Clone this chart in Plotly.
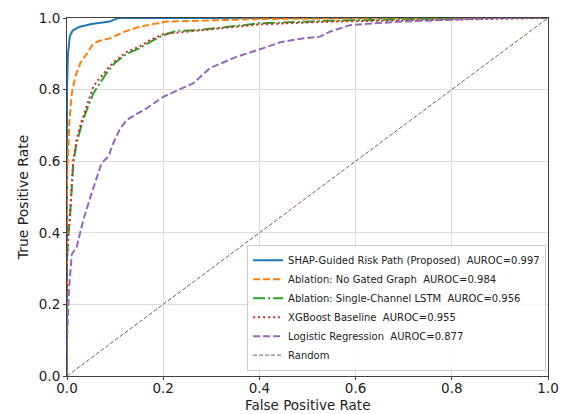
import plotly.graph_objects as go

# --- data ---
shap_fpr = [0.0, 0.0, 0.0, 0.002, 0.006, 0.012, 0.025, 0.051, 0.07, 0.089, 0.106, 0.2, 0.5, 1.0]
shap_tpr = [0.0, 0.6, 0.80, 0.90, 0.95, 0.965, 0.975, 0.983, 0.987, 0.99, 1.0, 1.0, 1.0, 1.0]

nogate_fpr = [0.0, 0.0, 0.0, 0.005, 0.01, 0.017, 0.028, 0.041, 0.055, 0.07, 0.089, 0.12, 0.152, 0.207, 0.3, 0.4, 0.6, 0.8, 1.0]
nogate_tpr = [0.0, 0.3, 0.55, 0.715, 0.79, 0.836, 0.875, 0.90, 0.929, 0.937, 0.943, 0.962, 0.976, 0.99, 0.994, 0.997, 0.999, 1.0, 1.0]

lstm_fpr = [0.0, 0.0, 0.0, 0.003, 0.006, 0.013, 0.02, 0.03, 0.04, 0.055, 0.07, 0.082, 0.1, 0.124, 0.15, 0.175, 0.2, 0.228, 0.27, 0.339, 0.4, 0.547, 0.7, 0.85, 1.0]
lstm_tpr = [0.0, 0.2, 0.33, 0.40, 0.436, 0.595, 0.65, 0.70, 0.74, 0.79, 0.82, 0.846, 0.875, 0.90, 0.915, 0.935, 0.952, 0.964, 0.966, 0.976, 0.985, 0.992, 0.996, 1.0, 1.0]

xgb_fpr = [0.0, 0.0, 0.0, 0.003, 0.006, 0.013, 0.02, 0.03, 0.04, 0.055, 0.07, 0.082, 0.1, 0.124, 0.15, 0.175, 0.2, 0.25, 0.3, 0.4, 0.547, 0.7, 0.85, 1.0]
xgb_tpr = [0.0, 0.18, 0.32, 0.40, 0.45, 0.60, 0.66, 0.71, 0.75, 0.81, 0.835, 0.855, 0.88, 0.905, 0.92, 0.94, 0.955, 0.962, 0.97, 0.982, 0.99, 0.993, 0.996, 1.0]

lr_fpr = [0.0, 0.0, 0.004, 0.01, 0.02, 0.034, 0.051, 0.072, 0.086, 0.096, 0.11, 0.124, 0.145, 0.166, 0.2, 0.263, 0.297, 0.353, 0.4, 0.443, 0.49, 0.526, 0.547, 0.588, 0.692, 0.796, 0.9, 1.0]
lr_tpr = [0.0, 0.10, 0.24, 0.34, 0.36, 0.436, 0.51, 0.595, 0.613, 0.65, 0.69, 0.715, 0.732, 0.748, 0.78, 0.818, 0.86, 0.892, 0.912, 0.932, 0.943, 0.948, 0.962, 0.98, 0.99, 0.994, 1.0, 1.0]

random_fpr = [0.0, 1.0]
random_tpr = [0.0, 1.0]

names = [
    "SHAP-Guided Risk Path (Proposed)  AUROC=0.997",
    "Ablation: No Gated Graph  AUROC=0.984",
    "Ablation: Single-Channel LSTM  AUROC=0.956",
    "XGBoost Baseline  AUROC=0.955",
    "Logistic Regression  AUROC=0.877",
    "Random",
]
x_title = "False Positive Rate"
y_title = "True Positive Rate"

fig = go.Figure()
series = [
    (shap_fpr, shap_tpr, "#1f77b4", "solid", 2),
    (nogate_fpr, nogate_tpr, "#ff7f0e", "7px,3px", 2),
    (lstm_fpr, lstm_tpr, "#2ca02c", "12px,3px,2px,3px", 2),
    (xgb_fpr, xgb_tpr, "#d62728", "2px,3px", 2),
    (lr_fpr, lr_tpr, "#9467bd", "7px,3px", 2),
    (random_fpr, random_tpr, "#8c564b", "4px,2px", 1),
]
for (x, y, c, d, w), n in zip(series, names):
    fig.add_trace(go.Scatter(x=x, y=y, mode="lines", name=n,
                             line=dict(color=c, dash=d, width=w)))

axis_common = dict(
    range=[0, 1], showgrid=True, gridcolor="#dedede", gridwidth=1,
    zeroline=False, showline=True, linecolor="#404040", linewidth=1, mirror=True,
    ticks="outside", ticklen=3, tickcolor="#404040", automargin=False,
    tickvals=[0, 0.2, 0.4, 0.6, 0.8, 1.0],
    ticktext=["0.0", "0.2", "0.4", "0.6", "0.8", "1.0"],
    tickfont=dict(size=13.5, color="#222"),
)
fig.update_xaxes(**axis_common, ticklabelstandoff=-3)
fig.update_yaxes(**axis_common, title=dict(text=y_title, font=dict(size=14, color="#222"), standoff=6))

fig.add_annotation(text=x_title, xref="paper", yref="paper", x=0.5, y=0,
                   xanchor="center", yanchor="top", yshift=-20, showarrow=False,
                   borderpad=0, font=dict(size=13.5, color="#222"))

fig.update_layout(
    width=563, height=414,
    margin=dict(l=67, r=15, t=18, b=38),
    paper_bgcolor="white", plot_bgcolor="white",
    font=dict(family="DejaVu Sans", color="#222"),
    legend=dict(x=0.996, y=0.015, xanchor="right", yanchor="bottom",
                bordercolor="#cccccc", borderwidth=1, bgcolor="rgba(255,255,255,0.85)",
                font=dict(size=10), itemwidth=30, tracegroupgap=0),
    showlegend=True,
)

fig.write_html("out.html", config={"displayModeBar": False},
               post_script="document.body.style.margin='0';document.body.style.overflow='hidden';")
